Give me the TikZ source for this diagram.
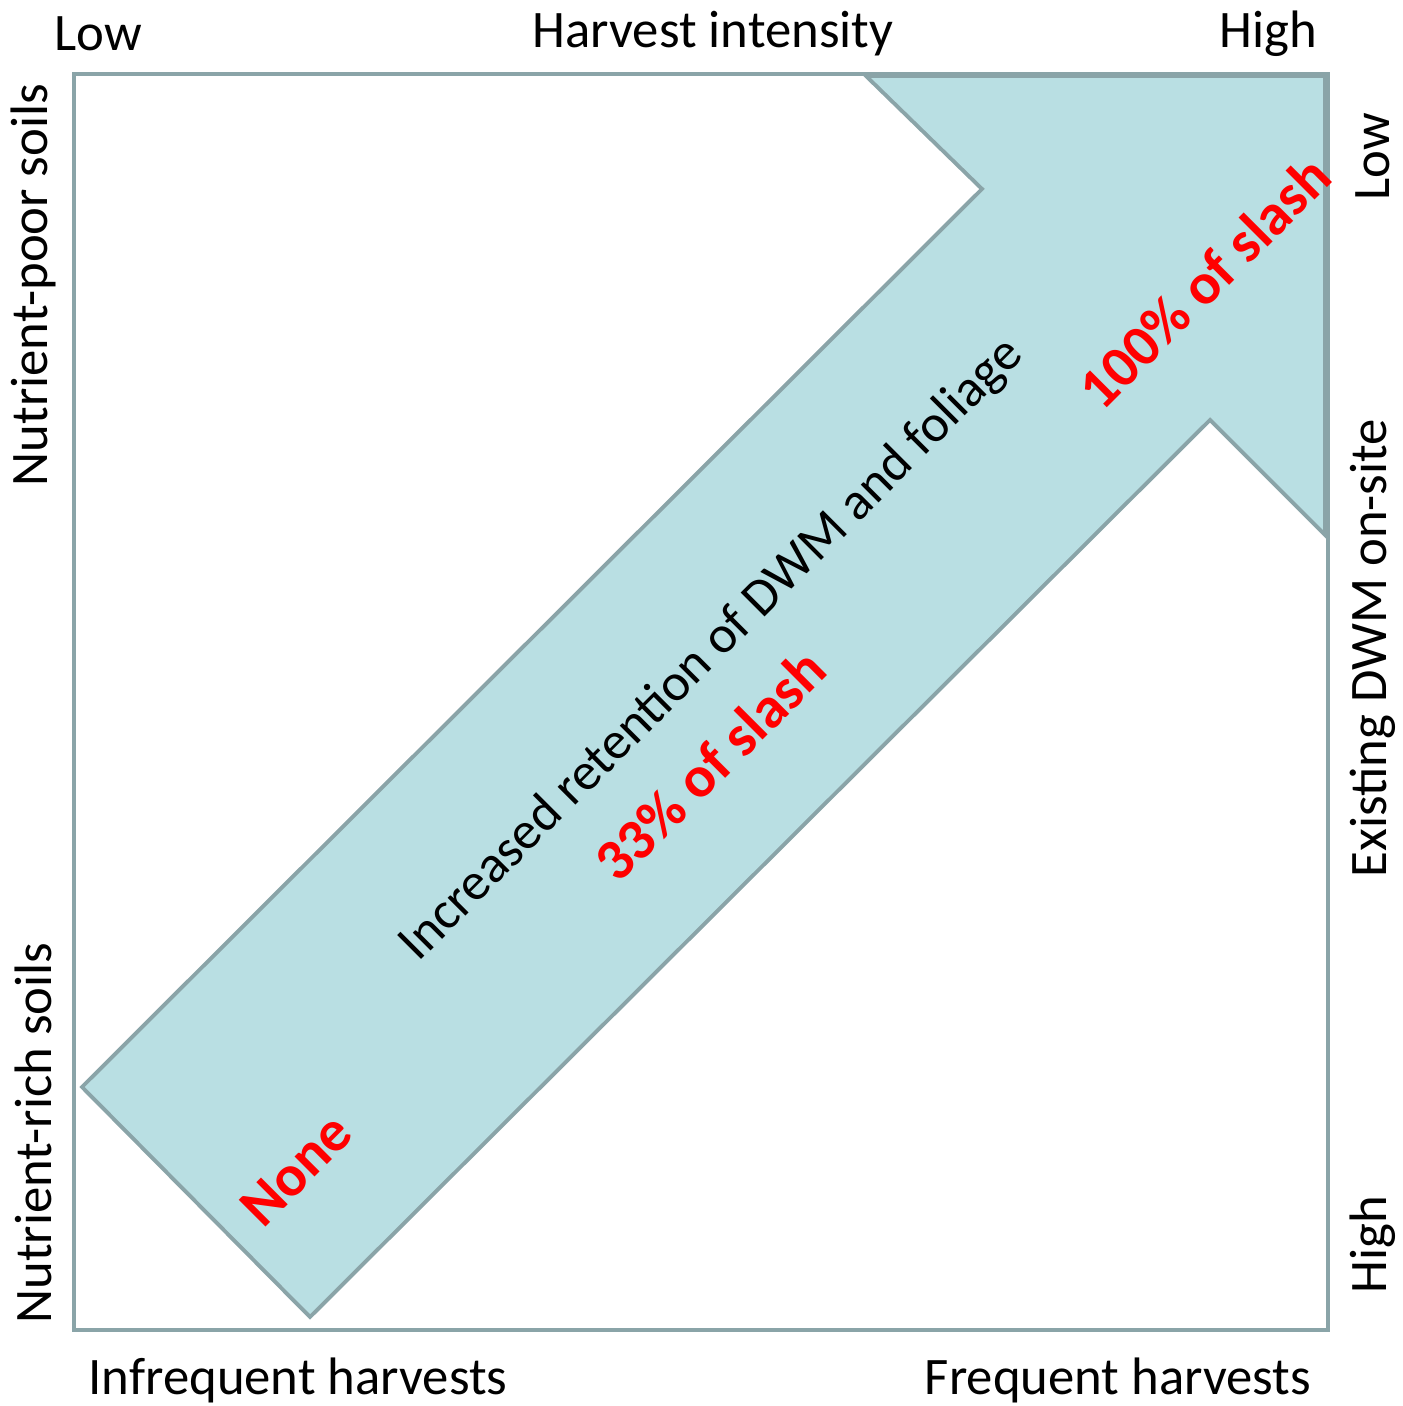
\documentclass[tikz,border=0pt]{standalone}
\usepackage{fontspec}
\setmainfont{Carlito}
\usepackage{tikz}
\usetikzlibrary{calc}
\usepackage{xcolor}

\definecolor{frame}{HTML}{8AA4A8}
\definecolor{arrowfill}{HTML}{B9DFE3}

\tikzset{
    axislabel/.style={font=\fontsize{15}{18}\selectfont, inner sep=0pt},
    amount/.style={font=\fontsize{16.6}{20}\selectfont\bfseries, text=red, rotate=45, inner sep=0pt}
}

\begin{document}
\begin{tikzpicture}[x=1cm, y=1cm]
                \useasboundingbox (0,0) rectangle (14.02,14.06);

                \coordinate (boxsw) at (0.74, 0.76);
                \coordinate (boxne) at (13.28, 13.32);

                \coordinate (tailleft) at (0.82, 3.19);
                \coordinate (tailbottom) at (3.10, 0.89);
                \coordinate (notchlow) at (12.10, 9.86);
                \coordinate (barblow) at (13.26, 8.70);
                \coordinate (tip) at (13.26, 13.30);
                \coordinate (barbup) at (8.66, 13.30);
                \coordinate (notchup) at (9.82, 12.17);

                % outer frame
                \draw [frame, line width=1.4pt] (boxsw) rectangle (boxne);

                % the big arrow
                \filldraw [fill=arrowfill, draw=frame, line width=1.1pt, line join=miter]
                    (tailleft) -- (tailbottom) -- (notchlow) -- (barblow) -- (tip) -- (barbup) -- (notchup) -- cycle;
                \draw [frame, line width=1.6pt] (barblow) -- (tip);

                % axis labels
                \node [axislabel] (lowtop) at (0.98, 13.72) {Low};
                \node [axislabel] (intensity) at (7.13, 13.72) {Harvest intensity};
                \node [axislabel] (hightop) at (12.68, 13.72) {High};
                \node [axislabel] (infrequent) at (2.98, 0.26) {Infrequent harvests};
                \node [axislabel] (frequent) at (11.18, 0.26) {Frequent harvests};

                \node [axislabel, rotate=90] (poor) at (0.33, 11.21) {Nutrient-poor soils};
                \node [axislabel, rotate=90] (rich) at (0.33, 2.73) {Nutrient-rich soils};

                \node [axislabel, rotate=90] (lowright) at (13.73, 12.49) {Low};
                \node [axislabel, rotate=90] (existing) at (13.73, 7.58) {Existing DWM on-site};
                \node [axislabel, rotate=90] (highright) at (13.73, 1.61) {High};

                % text along the arrow
                \node [axislabel, rotate=45] (retention) at (7.12, 7.56) {Increased retention of DWM and foliage};
                \node [amount] (none) at (2.96, 2.36) {None};
                \node [amount] (third) at (7.10, 6.41) {33\% of slash};
                \node [amount] (full) at (12.04, 11.24) {100\% of slash};

            \end{tikzpicture}
\end{document}
